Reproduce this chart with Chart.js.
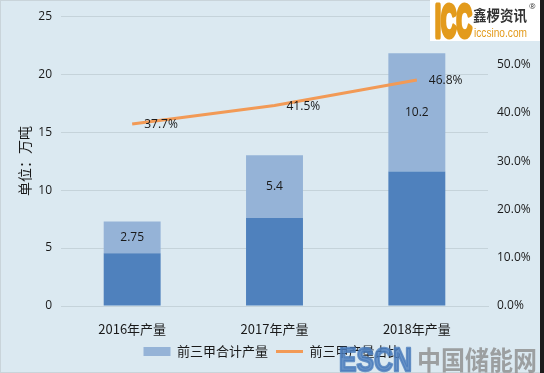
<!DOCTYPE html>
<html>
<head>
<meta charset="utf-8">
<script src="https://cdn.jsdelivr.net/npm/chart.js@4"></script>
<style>
  html, body { margin: 0; padding: 0; background: #dbe9f1; }
  #wrap { width: 544px; height: 373px; position: relative; }
</style>
</head>
<body>
<div id="wrap"><canvas id="chart" width="544" height="373"></canvas></div>
<script>
// chart data
const categories = ["2016年产量", "2017年产量", "2018年产量"];
const top3Output = [2.75, 5.4, 10.2];          // 前三甲合计产量 (light segment)
const otherOutput = [4.55, 7.6, 11.6];         // remaining output (dark segment)
const top3Share = [37.7, 41.5, 46.8];          // 前三甲产量占比, %
const leftTicks = [0, 5, 10, 15, 20, 25];
const rightTicks = [0, 10, 20, 30, 40, 50, 60];

const cnFont = "'Noto Sans CJK SC', 'Noto Sans', sans-serif";
const numFont = "'Open Sans', 'Noto Sans', sans-serif";

// background + border
const bgPlugin = {
    id: 'bg',
    beforeDraw(chart) {
        const c = chart.ctx;
        c.save();
        c.fillStyle = '#dbe9f1';
        c.fillRect(0, 0, chart.width, chart.height);
        c.strokeStyle = '#c9d4da';
        c.lineWidth = 1;
        c.strokeRect(0.5, 0.5, chart.width - 1, chart.height - 1);
        c.fillStyle = '#1c1c1c';
        c.fillRect(chart.width - 4, 0, 4, chart.height);
        c.restore();
    }
};

// value labels
const labelPlugin = {
    id: 'valueLabels',
    afterDatasetsDraw(chart) {
        const c = chart.ctx;
        c.save();
        c.fillStyle = '#1a1a1a';
        c.font = "12px " + numFont;
        c.textBaseline = 'middle';
        // bar labels, centered in the light segment
        c.textAlign = 'center';
        chart.getDatasetMeta(1).data.forEach((bar, i) => {
            const mid = (bar.y + bar.base) / 2;
            c.fillText(String(top3Output[i]), bar.x, mid);
        });
        // line labels, right of the point
        c.textAlign = 'left';
        chart.getDatasetMeta(2).data.forEach((pt, i) => {
            c.fillText(top3Share[i].toFixed(1) + '%', pt.x + 12, pt.y + 1);
        });
        c.restore();
    }
};

// text squeezed to a given width, optional stroke to make it heavier
function fitText(c, txt, x, y, w, heavy) {
    const m = c.measureText(txt).width;
    c.save();
    c.translate(x, y);
    c.scale(w / m, 1);
    if (heavy) {
        c.strokeStyle = c.fillStyle;
        c.lineWidth = heavy;
        c.lineJoin = 'round';
        c.strokeText(txt, 0, 0);
    }
    c.fillText(txt, 0, 0);
    c.restore();
}

// watermark and logo
const decoPlugin = {
    id: 'deco',
    afterDraw(chart) {
        const c = chart.ctx;
        c.save();
        c.textBaseline = 'alphabetic';
        c.textAlign = 'left';
        // ICC logo box
        c.fillStyle = '#ffffff';
        c.fillRect(430, 0, 110, 41);
        c.fillStyle = '#e39b1c';
        c.font = "bold 46px 'Liberation Sans', sans-serif";
        fitText(c, 'ICC', 435, 37, 37, 5);
        c.fillStyle = '#333333';
        c.font = "bold 15px " + cnFont;
        fitText(c, '鑫椤资讯', 473, 21, 54);
        c.font = "8px " + numFont;
        c.fillText('®', 529, 9);
        c.fillStyle = '#e39b1c';
        c.font = "12px 'Liberation Sans', sans-serif";
        fitText(c, 'iccsino.com', 474, 37, 53);
        // ESCN watermark
        c.globalAlpha = 0.8;
        c.fillStyle = '#4a7cbc';
        c.font = "bold 34px 'Liberation Sans', sans-serif";
        fitText(c, 'ESCN', 339, 371, 73, 2.5);
        c.fillStyle = '#8c8c8c';
        c.font = "bold 26px " + cnFont;
        fitText(c, '中国储能网', 417, 370, 120);
        c.restore();
    }
};

new Chart(document.getElementById('chart').getContext('2d'), {
    type: 'bar',
    data: {
        labels: categories,
        datasets: [
            {
                label: '其他产量',
                data: otherOutput,
                backgroundColor: '#4f81bd',
                stack: 's',
                yAxisID: 'y',
                barPercentage: 0.4,
                categoryPercentage: 1.0,
                order: 2
            },
            {
                label: '前三甲合计产量',
                data: top3Output,
                backgroundColor: '#95b3d7',
                stack: 's',
                yAxisID: 'y',
                barPercentage: 0.4,
                categoryPercentage: 1.0,
                order: 2
            },
            {
                type: 'line',
                label: '前三甲产量占比',
                data: top3Share,
                borderColor: '#f29a56',
                backgroundColor: '#f29a56',
                borderWidth: 3,
                pointRadius: 0,
                pointStyle: 'line',
                yAxisID: 'y1',
                order: 1
            }
        ]
    },
    options: {
        responsive: false,
        animation: false,
        layout: { padding: { top: 15, bottom: 5, left: 0, right: 0 } },
        plugins: {
            legend: {
                position: 'bottom',
                labels: {
                    usePointStyle: true,
                    pointStyleWidth: 27,
                    boxHeight: 9,
                    padding: 8,
                    color: '#1a1a1a',
                    font: { family: cnFont, size: 13 },
                    filter: item => item.datasetIndex !== 0,
                    sort: (a, b) => a.datasetIndex - b.datasetIndex,
                    generateLabels(chart) {
                        const items = Chart.defaults.plugins.legend.labels.generateLabels(chart);
                        items.forEach(it => {
                            if (it.datasetIndex === 1) { it.pointStyle = 'rect'; it.lineWidth = 0; }
                        });
                        return items;
                    }
                }
            },
            tooltip: { enabled: false }
        },
        scales: {
            x: {
                stacked: true,
                grid: { display: false },
                border: { display: true, color: '#c5d3da' },
                ticks: { color: '#1a1a1a', font: { family: cnFont, size: 13 }, padding: 7 },
                afterFit(scale) { scale.height = 31; }
            },
            y: {
                stacked: true,
                position: 'left',
                min: 0,
                max: 25,
                afterBuildTicks(scale) { scale.ticks = leftTicks.map(v => ({ value: v })); },
                ticks: { color: '#1a1a1a', font: { family: numFont, size: 12 }, padding: 9 },
                grid: { color: '#c5d3da', drawTicks: false },
                border: { display: false },
                title: {
                    display: true,
                    text: '单位：万吨',
                    color: '#1a1a1a',
                    font: { family: cnFont, size: 14 },
                    padding: { top: 16, bottom: 0 }
                },
                afterFit(scale) { scale.width = 61; }
            },
            y1: {
                position: 'right',
                min: 0,
                max: 60,
                afterBuildTicks(scale) { scale.ticks = rightTicks.map(v => ({ value: v })); },
                ticks: {
                    color: '#1a1a1a',
                    font: { family: numFont, size: 12 },
                    padding: 9,
                    callback: v => v.toFixed(1) + '%'
                },
                grid: { display: false, drawTicks: false },
                border: { display: false },
                afterFit(scale) { scale.width = 56; }
            }
        }
    },
    plugins: [bgPlugin, labelPlugin, decoPlugin]
});
</script>
</body>
</html>
